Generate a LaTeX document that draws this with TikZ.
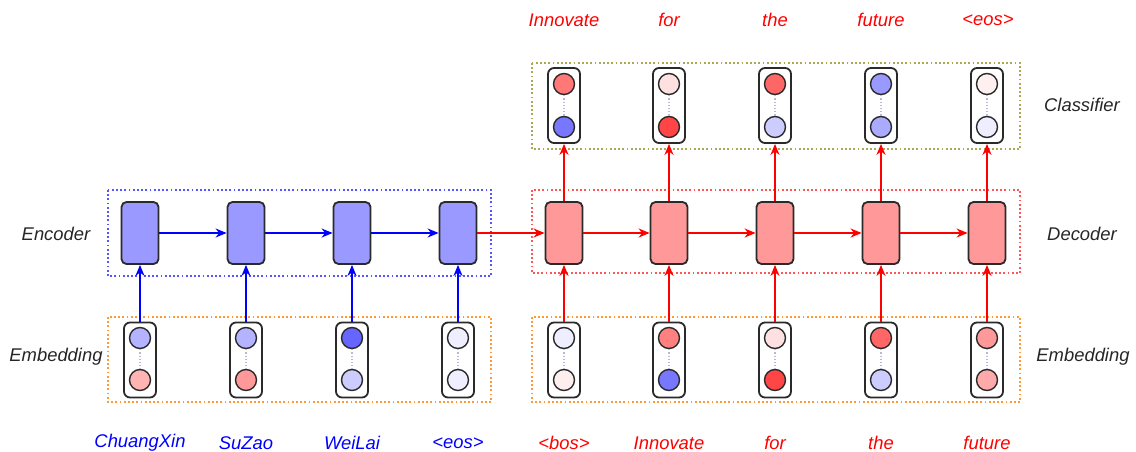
\documentclass[tikz,border=0pt]{standalone}
\usepackage{fontspec}
\setmainfont{Liberation Sans}
\usetikzlibrary{arrows.meta}

\definecolor{encfill}{HTML}{9999FF}
\definecolor{decfill}{HTML}{FF9999}
\definecolor{encframe}{HTML}{5555FF}
\definecolor{embframe}{HTML}{FF9933}
\definecolor{decframe}{HTML}{FF5555}
\definecolor{clsframe}{HTML}{AAAA55}
\definecolor{edgegray}{HTML}{2A2A2A}
\definecolor{linkdots}{HTML}{B8B8D8}

\begin{document}
\begin{tikzpicture}[x=1pt,y=-1pt,
  every node/.style={font=\fontsize{18.4}{20}\selectfont\itshape},
  cell/.style={draw=edgegray, line width=1.8pt, rounded corners=5pt,
    minimum width=37pt, minimum height=62pt, inner sep=0pt},
  enccell/.style={cell, fill=encfill},
  deccell/.style={cell, fill=decfill},
  pill/.style={draw=edgegray, line width=1.8pt, rounded corners=6pt,
    minimum width=32pt, minimum height=75pt, inner sep=0pt, fill=white},
  unit/.style={circle, draw=edgegray, line width=1.4pt, minimum size=21pt, inner sep=0pt},
  link/.style={draw=linkdots, line width=1.2pt, dash pattern=on 1.2pt off 2pt},
  frame/.style={line width=1.8pt, dash pattern=on 1.8pt off 2.4pt},
  bluearr/.style={draw=blue, line width=1.8pt, -{Stealth[length=11pt,width=9pt,inset=3.5pt]}},
  redarr/.style={draw=red, line width=1.8pt, -{Stealth[length=11pt,width=9pt,inset=3.5pt]}},
  srcword/.style={text=blue},
  tgtword/.style={text=red},
  rowlabel/.style={text=black!85},
]
\useasboundingbox (0,0) rectangle (1136,452);

% dotted group frames
\draw[frame, draw=encframe] (108,190) rectangle (491,276);
\draw[frame, draw=embframe] (108,317) rectangle (491,402);
\draw[frame, draw=decframe] (532,190) rectangle (1020,273);
\draw[frame, draw=embframe] (532,317) rectangle (1020,402);
\draw[frame, draw=clsframe] (532,63) rectangle (1020,149);

% row labels
\node[rowlabel] (lenc) at (56,234) {Encoder};
\node[rowlabel] (lemb) at (56,357) {Embedding};
\node[rowlabel] (ldec) at (1082,234) {Decoder};
\node[rowlabel] (remb) at (1083,357) {Embedding};
\node[rowlabel] (lcls) at (1082,105) {Classifier};

% embedding vectors: name/x/top colour/bottom colour
\foreach \n/\x/\ct/\cb in {
    e1/140/B3B3FF/FFB3B3, e2/246/B3B3FF/FF9999, e3/352/6666FF/CCCCFF, e4/458/EEEEFF/EEEEFF,
    d1/564/EEEEFF/FFEEEE, d2/669/FF8080/7777FF, d3/775/FFE0E0/FF4545,
    d4/881/FF6666/CCCCFF, d5/987/FF9999/FFAAAA} {
  \node[pill] (\n) at (\x,360) {};
  \definecolor{ctop}{HTML}{\ct}\definecolor{cbot}{HTML}{\cb}
  \node[unit, fill=ctop] (\n t) at (\x,338) {};
  \node[unit, fill=cbot] (\n b) at (\x,380) {};
  \draw[link] (\n t) -- (\n b);
}

% classifier output vectors
\foreach \n/\x/\ct/\cb in {
    c1/564/FF7777/7777FF, c2/669/FFE0E0/FF4545, c3/775/FF6666/CCCCFF,
    c4/881/9999FF/AAAAFF, c5/987/FFF0F0/EEEEFF} {
  \node[pill] (\n) at (\x,105.5) {};
  \definecolor{ctop}{HTML}{\ct}\definecolor{cbot}{HTML}{\cb}
  \node[unit, fill=ctop] (\n t) at (\x,84) {};
  \node[unit, fill=cbot] (\n b) at (\x,127) {};
  \draw[link] (\n t) -- (\n b);
}

% recurrent cells
\foreach \n/\x in {h1/140, h2/246, h3/352, h4/458}
  \node[enccell] (\n) at (\x,233) {};
\foreach \n/\x in {s1/564, s2/669, s3/775, s4/881, s5/987}
  \node[deccell] (\n) at (\x,233) {};

% encoder connections
\draw[bluearr] (h1) -- (h2);
\draw[bluearr] (h2) -- (h3);
\draw[bluearr] (h3) -- (h4);
\foreach \i in {1,...,4}
  \draw[bluearr] (e\i) -- (h\i);

% encoder to decoder and decoder connections
\draw[redarr] (h4) -- (s1);
\draw[redarr] (s1) -- (s2);
\draw[redarr] (s2) -- (s3);
\draw[redarr] (s3) -- (s4);
\draw[redarr] (s4) -- (s5);
\foreach \i in {1,...,5} {
  \draw[redarr] (d\i) -- (s\i);
  \draw[redarr] (s\i) -- (c\i);
}

% source words
\node[srcword] (w1) at (140,443) {ChuangXin};
\node[srcword] (w2) at (246,443) {SuZao};
\node[srcword] (w3) at (352,443) {WeiLai};
\node[srcword] (w4) at (458,443) {<eos>};

% decoder input words
\node[tgtword] (i1) at (564,443) {<bos>};
\node[tgtword] (i2) at (669,443) {Innovate};
\node[tgtword] (i3) at (775,443) {for};
\node[tgtword] (i4) at (881,443) {the};
\node[tgtword] (i5) at (987,443) {future};

% predicted words
\node[tgtword] (o1) at (564,20) {Innovate};
\node[tgtword] (o2) at (669,20) {for};
\node[tgtword] (o3) at (775,20) {the};
\node[tgtword] (o4) at (881,20) {future};
\node[tgtword] (o5) at (988,20) {<eos>};
\end{tikzpicture}
\end{document}
